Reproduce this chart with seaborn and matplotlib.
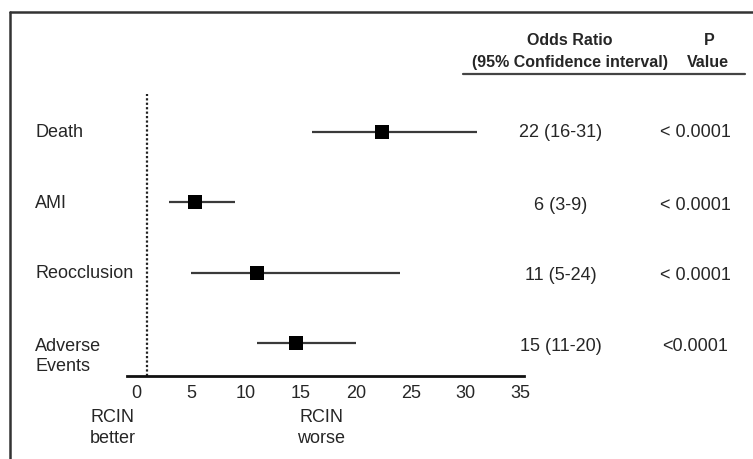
import matplotlib
matplotlib.use("Agg")
import matplotlib.pyplot as plt
import matplotlib.transforms as mtransforms
from matplotlib.lines import Line2D
import seaborn as sns
import pandas as pd

# ---- data ----
outcomes = ["Death", "AMI", "Reocclusion", "Adverse\nEvents"]
odds_ratio = [22.4, 5.4, 11.0, 14.6]
ci_low = [16, 3, 5, 11]
ci_high = [31, 9, 24, 20]
or_text = ["22 (16-31)", "6 (3-9)", "11 (5-24)", "15 (11-20)"]
p_text = ["< 0.0001", "< 0.0001", "< 0.0001", "<0.0001"]
x_ticks = [0, 5, 10, 15, 20, 25, 30, 35]

df = pd.DataFrame({"outcome": outcomes, "or": odds_ratio,
                   "lo": ci_low, "hi": ci_high})
df["row"] = range(len(df))

sns.set_theme(style="white")
plt.rcParams["font.family"] = ["Liberation Sans", "DejaVu Sans"]
txt = "#262626"

fig = plt.figure(figsize=(7.53, 4.60), dpi=100)
ax = fig.add_axes([0.1687, 0.1804, 0.696 - 0.1687, 0.7935 - 0.1804])

# CI lines
ax.hlines(df["row"], df["lo"], df["hi"], color="#3a3a3a", linewidth=1.6, zorder=2)
# point estimates
sns.scatterplot(data=df, x="or", y="row", marker="s", s=95, color="black",
                edgecolor="black", linewidth=0, zorder=3, ax=ax, legend=False)
# reference line at OR = 1
ax.axvline(1, color="#222222", linewidth=1.6, linestyle=(0, (1, 1)), zorder=1)

ax.set_xlim(-0.8, 35.3)
ax.set_ylim(3.47, -0.54)
ax.set_xticks(x_ticks)
ax.set_xticklabels([str(t) for t in x_ticks], fontsize=13, color=txt)
ax.set_yticks([])
ax.set_xlabel("")
ax.set_ylabel("")
ax.tick_params(axis="x", length=0, pad=6)
for s in ["top", "left", "right"]:
    ax.spines[s].set_visible(False)
ax.spines["bottom"].set_color("#111111")
ax.spines["bottom"].set_linewidth(2.0)

# row labels and right columns
trans = mtransforms.blended_transform_factory(fig.transFigure, ax.transData)
for i, name in enumerate(outcomes):
    if "\n" in name:
        ax.text(0.0465, i - 0.09, name, transform=trans, ha="left", va="top",
                fontsize=13, color=txt, linespacing=1.25, clip_on=False)
    else:
        ax.text(0.0465, i, name, transform=trans, ha="left", va="center",
                fontsize=13, color=txt, clip_on=False)
    ax.text(0.745, i + (0.03 if i > 0 else 0), or_text[i], transform=trans,
            ha="center", va="center", fontsize=13, color=txt, clip_on=False)
    ax.text(0.923, i + (0.03 if i > 0 else 0), p_text[i], transform=trans,
            ha="center", va="center", fontsize=13, color=txt, clip_on=False)

# header
fig.text(0.757, 0.911, "Odds Ratio", ha="center", va="center",
         fontsize=11.5, fontweight="bold", color=txt)
fig.text(0.757, 0.865, "(95% Confidence interval)", ha="center", va="center",
         fontsize=11.5, fontweight="bold", color=txt)
fig.text(0.9416, 0.911, "P", ha="center", va="center",
         fontsize=11.5, fontweight="bold", color=txt)
fig.text(0.940, 0.865, "Value", ha="center", va="center",
         fontsize=11.5, fontweight="bold", color=txt)
fig.add_artist(Line2D([0.615, 0.989], [0.837, 0.837], transform=fig.transFigure,
                      color="#444444", linewidth=1.6))

# bottom direction labels
fig.text(0.150, 0.110, "RCIN\nbetter", ha="center", va="top", fontsize=13,
         color=txt, linespacing=1.25)
fig.text(0.427, 0.110, "RCIN\nworse", ha="center", va="top", fontsize=13,
         color=txt, linespacing=1.25)

# outer frame (left and top edges)
fig.add_artist(Line2D([0.0133, 0.0133], [0.0, 0.9717], transform=fig.transFigure,
                      color="#333333", linewidth=1.8))
fig.add_artist(Line2D([0.0133, 1.0], [0.9717, 0.9717], transform=fig.transFigure,
                      color="#333333", linewidth=1.8))

fig.savefig("out.png", dpi=100, facecolor="white")
